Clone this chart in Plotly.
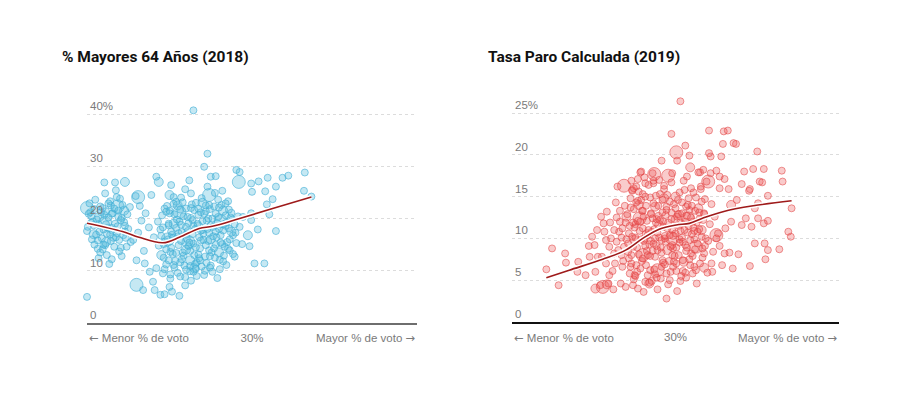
import plotly.graph_objects as go

# ---------------- LEFT PANEL: % Mayores 64 Años (2018) ----------------
left_small_x = [
    9.9, 9.9, 9.9, 10.0, 10.0, 10.1, 10.5, 10.9, 11.2, 11.5,
    11.8, 12.0, 12.3, 12.6, 12.9, 13.1, 13.4, 13.6, 13.9, 14.1,
    14.4, 14.6, 14.9, 15.2, 12.2, 13.5, 11.0, 10.6, 11.3, 12.4,
    13.0, 14.2, 12.8, 13.3, 11.7, 14.0, 10.3, 12.0, 13.8, 15.0,
    11.4, 12.7, 14.8, 15.3, 13.4, 12.1,
    15.6, 16.2, 16.6, 17.1, 17.5, 16.0, 16.9, 17.8, 18.4, 17.0,
    17.6, 18.4, 15.9, 16.4, 18.1,
    18.0, 18.2, 18.9, 19.4, 20.0, 20.3, 21.3, 20.1, 19.2, 16.8,
    21.9, 22.6, 23.3, 24.2, 25.2, 26.9, 22.0, 19.6, 20.6, 23.9,
    25.8, 21.2,
    18.7, 18.9, 19.1, 19.3, 19.5, 19.7, 19.9, 20.1, 20.3, 20.5,
    20.7, 20.9, 21.1, 21.3, 21.5, 21.7, 21.9, 22.1, 22.3, 22.5,
    22.7, 22.9, 23.1, 23.3, 23.5, 23.7, 23.9, 24.1, 24.3, 24.5,
    24.7, 24.9, 25.1, 25.3, 25.5, 25.7, 25.9, 26.1, 26.3, 26.5,
    26.7, 26.9, 27.1, 27.3, 27.5, 27.7, 27.9, 28.1, 28.3, 27.9,
    19.4, 20.2, 21.0, 22.4, 23.2, 24.6, 25.0, 26.4, 21.6, 23.8,
    20.0, 22.8, 24.4, 26.0, 27.2, 21.4, 23.6, 25.6, 19.0, 22.2,
    20.8, 24.8, 26.8, 23.0, 25.4, 18.6, 21.8, 24.0, 22.6, 20.4,
    28.1, 28.5, 25.0, 25.6, 29.9, 30.8, 31.9, 33.7, 34.4, 36.4,
    30.0, 31.6, 32.9, 36.3, 32.5, 31.8, 37.2, 29.9, 32.1, 28.9,
    29.9, 28.5, 30.7, 32.9, 28.8, 29.7, 30.3, 31.5, 24.2, 24.6,
    22.9,
    19.2, 19.6, 20.0, 20.4, 20.8, 21.2, 21.6, 22.0, 22.4, 22.8,
    23.2, 23.6, 24.0, 24.4, 24.8, 25.2, 25.6, 26.0, 26.4, 26.8,
    27.2, 27.6,
    19.8, 20.6, 21.4, 22.2, 23.0, 23.8, 24.6, 25.4, 26.2, 27.0,
    21.0, 22.6, 24.2, 25.8, 19.4, 23.4, 26.6, 20.2, 24.8, 22.0,
    20.5, 21.5, 22.5, 23.5, 24.5, 25.5, 26.5, 19.9, 22.9, 24.9,
    10.7, 11.1, 11.6, 12.1, 12.5, 12.9, 13.3, 13.7, 14.2, 14.7,
    10.4, 11.9, 13.2, 14.5, 11.4, 12.6, 13.9, 10.9, 12.3, 13.6,
    19.3, 19.9, 20.5, 21.1, 21.7, 22.3, 22.9, 23.5, 24.1, 24.7,
    25.3, 25.9, 26.5, 27.1, 27.7,
    19.6, 20.2, 20.8, 21.4, 22.0, 22.6, 23.2, 23.8, 24.4, 25.0,
    25.6, 26.2, 26.8, 27.4, 28.0,
    20.1, 21.3, 22.5, 23.7, 24.9, 26.1, 27.3, 21.9, 23.1, 24.3,
    10.2, 10.8, 11.3, 11.9, 12.4, 13.0, 13.5, 14.1, 14.6, 11.6,
    12.8, 13.8, 10.5, 12.2, 14.3,
]
left_small_y = [
    15.2, 12.4, 8.5, 5.0, 17.6, 18.4, 20.5, 21.8, 19.8, 17.5,
    16.2, 15.0, 18.9, 20.2, 22.5, 21.0, 19.0, 17.2, 15.9, 14.4,
    16.8, 18.6, 20.8, 22.2, 24.8, 25.4, 23.6, 16.0, 14.2, 13.0,
    12.2, 12.8, 16.9, 14.6, 21.2, 23.8, 22.9, 17.9, 20.3, 18.0,
    12.4, 11.3, 14.6, 15.5, 26.9, 26.9,
    15.9, 17.3, 19.6, 21.0, 18.3, 12.0, 13.8, 24.5, 28.0, 11.4,
    9.8, 10.5, 24.3, 22.4, 16.4,
    7.9, 6.3, 5.4, 5.5, 6.9, 6.0, 8.9, 8.5, 9.5, 6.3,
    7.2, 8.1, 9.0, 9.2, 9.8, 11.1, 10.2, 11.2, 10.6, 10.8,
    8.6, 5.2,
    14.8, 17.9, 20.6, 12.5, 15.6, 22.4, 18.7, 13.6, 16.9, 24.1,
    11.9, 19.8, 14.9, 21.7, 17.4, 12.9, 25.6, 16.1, 19.1, 13.8,
    22.7, 15.2, 18.0, 11.6, 20.7, 14.3, 23.9, 17.1, 12.7, 19.6,
    15.7, 21.8, 13.5, 18.4, 24.9, 16.4, 20.3, 12.1, 22.6, 17.7,
    14.6, 19.2, 23.3, 16.0, 21.1, 13.2, 18.9, 15.3, 20.4, 12.7,
    10.3, 26.4, 9.6, 27.3, 10.4, 26.1, 11.0, 25.3, 23.1, 21.2,
    21.5, 17.0, 14.9, 18.0, 18.1, 15.7, 16.4, 15.0, 16.7, 20.3,
    18.2, 17.2, 20.6, 13.0, 22.3, 19.4, 11.0, 19.5, 24.8, 13.2,
    29.3, 28.9, 28.0, 28.1, 26.7, 27.1, 27.8, 27.8, 28.2, 28.8,
    25.1, 25.2, 26.1, 25.3, 23.7, 22.7, 24.2, 21.0, 20.8, 20.3,
    19.7, 18.4, 17.9, 17.6, 15.1, 14.7, 11.4, 11.4, 29.9, 32.4,
    40.7,
    18.3, 14.1, 21.0, 16.3, 23.2, 19.4, 13.5, 21.9, 15.4, 19.7,
    23.0, 12.4, 17.8, 21.4, 13.9, 20.0, 17.5, 22.1, 15.1, 18.6,
    21.7, 19.8,
    16.0, 20.8, 18.8, 17.6, 21.6, 15.8, 18.0, 14.3, 16.8, 15.5,
    16.6, 22.0, 20.9, 19.1, 21.9, 19.0, 12.9, 14.4, 22.6, 18.4,
    11.1, 12.2, 10.9, 13.1, 11.5, 12.5, 11.8, 12.0, 9.8, 10.6,
    19.4, 16.9, 22.3, 20.7, 18.2, 15.7, 21.9, 18.5, 20.1, 16.3,
    21.2, 14.1, 16.3, 19.3, 18.9, 22.9, 13.7, 15.0, 21.4, 24.1,
    15.1, 19.0, 22.8, 17.2, 20.4, 14.7, 18.6, 21.9, 15.9, 20.0,
    16.6, 23.6, 18.9, 14.2, 16.8,
    21.3, 17.5, 13.4, 24.0, 16.9, 20.1, 14.5, 17.7, 22.5, 18.7,
    20.9, 15.4, 22.9, 20.2, 17.3,
    9.3, 11.6, 9.9, 12.0, 12.8, 10.3, 13.9, 8.8, 11.3, 10.0,
    20.9, 18.7, 15.8, 22.0, 17.1, 20.9, 16.4, 19.7, 17.5, 13.5,
    23.3, 21.5, 19.2, 14.9, 22.6,
]
left_medium_x = [11.5, 13.0, 12.3, 14.5, 10.8, 20.5, 22.0, 23.5, 25.0, 26.5,
                 21.0, 24.0, 27.5, 19.0, 23.0, 26.0, 18.7, 14.6, 29.5, 20.0,
                 22.5]
left_medium_y = [20.3, 18.0, 15.5, 21.5, 17.0, 19.0, 14.0, 18.5, 16.0, 21.5,
                 22.5, 23.0, 17.5, 13.0, 10.5, 13.5, 27.0, 27.0, 16.8, 24.5,
                 12.0]
left_large_x = [10.0, 16.2, 28.4, 16.0, 21.2, 24.8, 19.8, 13.7, 12.2, 26.2, 22.3]
left_large_y = [22.0, 24.1, 27.0, 7.3, 21.2, 24.5, 16.0, 22.3, 19.2, 19.5, 15.5]

left_trend_x = [10.0, 14.3, 16.3, 19.2, 21.2, 23.6, 25.2, 28.5, 32.5, 37.2]
left_trend_y = [19.1, 17.5, 16.4, 15.35, 16.4, 18.1, 18.5, 20.0, 21.9, 24.1]

left_tick_vals = [0, 10, 20, 30, 40]
left_tick_text = ["0", "10", "20", "30", "40%"]

# ---------------- RIGHT PANEL: Tasa Paro Calculada (2019) ----------------
right_small_x = [
    14.2, 14.9, 15.7, 16.5, 16.6, 18.1, 18.0, 19.4, 19.5, 19.0,
    20.1, 20.5, 20.2, 21.2, 21.3, 20.8, 21.8, 21.9, 22.1, 21.5,
    22.5, 22.6, 21.5, 21.9, 22.9, 24.7, 25.4, 25.7, 25.2, 23.2,
    23.2, 23.1, 23.5, 23.7, 24.6, 23.5, 24.4, 23.3, 25.0, 24.8,
    30.6, 29.5, 34.1, 35.9, 36.4, 37.1, 37.4, 35.8, 40.0, 31.2,
    31.7, 30.2, 34.1, 34.3, 35.6, 28.3, 27.2, 25.8, 26.3, 27.3,
    33.4, 33.0, 34.3, 35.0, 35.4, 36.0, 33.8,
    38.4, 39.5, 40.8, 40.3, 38.1, 39.1, 36.5, 35.4, 37.5, 41.3,
    40.1, 43.0, 43.1, 40.6, 39.0, 44.2, 39.7, 38.6, 39.3, 40.1,
    40.8, 41.3, 38.1, 36.8, 43.8, 44.1, 39.7, 40.9, 41.3, 37.7,
    36.6, 36.0, 35.4, 35.0, 35.2, 36.1, 42.7, 41.0, 35.7, 37.0,
    39.1, 34.5, 34.4, 32.1, 31.2, 29.7, 28.4, 26.8, 26.1, 28.9,
    24.1, 24.3, 24.5, 24.7, 24.9, 25.1, 25.3, 25.5, 25.7, 25.9,
    26.1, 26.3, 26.5, 26.7, 26.9, 27.1, 27.3, 27.5, 27.7, 27.9,
    28.1, 28.3, 28.5, 28.7, 28.9, 29.1, 29.3, 29.5, 29.7, 29.9,
    30.1, 30.3, 30.5, 30.7, 30.9, 31.1, 31.3, 31.5, 31.7, 31.9,
    32.1, 32.3, 32.5, 32.7, 32.9, 33.1, 33.3, 33.5, 33.7, 33.9,
    24.8, 25.6, 26.4, 27.2, 28.0, 28.8, 29.6, 30.4, 31.2, 32.0,
    25.2, 26.0, 26.8, 27.6, 28.4, 29.2, 30.0, 30.8, 31.6, 32.4,
    24.4, 25.8, 27.0, 28.6, 29.8, 31.0, 32.2, 33.4, 27.4, 28.2,
    29.4, 30.6, 31.8, 26.6, 25.4, 27.8, 30.2, 32.6, 33.6, 34.2,
    24.6, 26.2, 28.0, 29.6, 31.4, 32.8, 34.4, 34.6, 23.8, 24.2,
    22.0, 22.8, 23.4, 22.3, 23.0, 21.0, 20.4, 19.8, 23.6, 22.7,
    21.6, 20.9, 23.9, 22.4,
    24.3, 24.9, 25.5, 26.1, 26.7, 27.3, 27.9, 28.5, 29.1, 29.7,
    30.3, 30.9, 31.5, 32.1, 32.7, 33.3,
    24.6, 25.2, 25.8, 26.4, 27.0, 27.6, 28.2, 28.8, 29.4, 30.0,
    30.6, 31.2, 31.8, 32.4, 33.0, 33.6,
    25.0, 25.9, 26.9, 27.8, 28.7, 29.5, 30.4, 31.3, 32.2, 26.3,
    27.5, 28.9, 30.1, 31.6, 29.0, 27.1,
    24.0, 25.4, 26.6, 27.7, 28.3, 29.8, 30.9, 32.3, 33.5, 28.6,
    26.0, 24.7, 31.9, 30.7, 29.3, 27.3,
    25.1, 26.2, 27.4, 28.5, 29.6, 30.5, 31.4, 32.9, 23.4, 22.8,
    23.9, 22.5, 24.5, 34.0, 33.2, 34.8,
    24.2, 24.8, 25.4, 26.0, 26.6, 27.2, 27.8, 28.4, 29.0, 29.6,
    30.2, 30.8, 31.4, 32.0, 32.6, 33.2,
    24.5, 25.1, 25.7, 26.3, 26.9, 27.5, 28.1, 28.7, 29.3, 29.9,
    30.5, 31.1, 31.7, 32.3, 32.9, 33.5,
    25.3, 26.5, 27.7, 28.9, 30.1, 31.3, 32.5, 26.0, 28.3, 30.8,
    27.0, 29.5, 31.9, 24.9, 33.1,
]
right_small_y = [
    6.3, 8.8, 4.4, 8.2, 7.1, 7.2, 6.0, 9.1, 7.8, 5.6,
    9.2, 7.8, 6.0, 11.8, 10.8, 4.4, 4.6, 9.0, 10.0, 9.8,
    8.2, 7.0, 7.0, 5.6, 16.2, 15.8, 17.1, 17.9, 16.2, 13.3,
    12.0, 10.8, 11.2, 9.0, 8.0, 6.6, 5.8, 4.6, 5.6, 4.4,
    26.4, 22.5, 22.9, 22.8, 22.9, 21.4, 21.3, 21.3, 20.4, 21.1,
    19.9, 19.3, 20.2, 19.8, 19.8, 19.3, 17.8, 18.0, 16.6, 16.6,
    18.2, 17.9, 17.8, 18.1, 17.4, 17.1, 16.8,
    18.0, 18.3, 18.3, 16.8, 16.5, 15.9, 15.9, 16.0, 14.6, 15.1,
    14.2, 18.1, 16.8, 16.7, 15.7, 13.6, 13.6, 12.4, 11.4, 12.4,
    11.8, 12.1, 11.6, 12.0, 10.8, 10.2, 9.4, 9.4, 8.6, 8.1,
    8.3, 8.2, 9.1, 10.0, 10.6, 11.2, 8.7, 7.5, 6.8, 6.4,
    6.7, 6.0, 7.0, 5.8, 5.9, 6.6, 7.4, 4.7, 3.6, 2.8,
    12.9, 7.6, 14.8, 10.2, 5.1, 11.7, 8.9, 15.6, 6.4, 13.3,
    9.7, 4.8, 12.1, 16.4, 7.9, 10.8, 14.2, 5.7, 9.1, 12.7,
    15.3, 8.3, 11.4, 6.9, 13.8, 4.5, 10.4, 16.7, 8.8, 12.3,
    6.1, 14.6, 9.9, 11.8, 7.4, 15.8, 5.3, 10.7, 13.4, 8.2,
    12.0, 6.6, 14.9, 9.4, 11.1, 16.2, 7.7, 13.0, 10.0, 5.9,
    9.0, 10.9, 13.9, 8.5, 10.1, 9.6, 11.0, 8.0, 9.2, 10.5,
    6.8, 11.2, 9.3, 11.9, 13.1, 7.3, 10.6, 13.0, 11.5, 8.7,
    11.5, 14.6, 13.0, 15.9, 14.1, 16.9, 15.5, 12.2, 6.3, 5.2,
    6.0, 4.9, 6.8, 5.6, 4.0, 3.9, 3.7, 4.6, 9.1, 11.7,
    16.9, 17.3, 17.0, 17.8, 17.4, 17.9, 14.1, 8.4, 13.9, 9.4,
    11.9, 12.5, 10.1, 6.1, 8.6, 7.8, 11.0, 10.2, 7.3, 14.3,
    13.2, 12.6, 4.2, 3.9,
    10.6, 13.5, 8.1, 12.6, 11.0, 9.4, 13.9, 7.1, 11.9, 10.3,
    12.9, 9.6, 14.0, 7.9, 10.8, 8.8,
    7.0, 14.3, 9.9, 6.8, 12.9, 15.1, 8.9, 12.8, 9.0, 13.6,
    10.9, 12.0, 9.8, 13.3, 7.0, 14.7,
    11.3, 7.3, 14.9, 10.7, 10.0, 13.1, 11.5, 8.5, 11.3, 9.1,
    7.8, 5.8, 8.9, 14.8, 15.2, 4.9,
    9.9, 12.1, 8.0, 12.3, 9.8, 7.2, 6.1, 9.9, 12.9, 16.3,
    15.3, 15.7, 16.0, 5.5, 5.0, 16.9,
    5.5, 10.0, 11.1, 12.0, 8.0, 9.5, 12.7, 12.3, 8.0, 9.6,
    11.9, 11.0, 6.6, 9.7, 10.2, 12.6,
    8.4, 11.9, 14.5, 7.6, 10.4, 12.4, 8.6, 14.6, 11.2, 9.2,
    12.6, 10.1, 8.9, 13.9, 11.9, 14.4,
    13.7, 10.1, 12.0, 15.0, 6.2, 10.0, 12.2, 10.3, 14.4, 7.9,
    15.5, 11.0, 7.5, 10.9, 13.1, 8.2,
    6.0, 8.5, 5.3, 13.4, 7.0, 13.8, 6.2, 13.3, 6.6, 14.3,
    9.7, 12.3, 12.5, 16.0, 15.9,
]
right_medium_x = [26.8, 28.6, 30.0, 27.5, 29.0, 31.0, 32.8, 25.0, 26.5, 24.0,
                  33.2, 30.5, 28.0, 21.6, 20.2, 36.8, 31.8, 25.5, 33.5]
right_medium_y = [4.6, 14.8, 15.0, 13.8, 8.6, 7.2, 13.6, 9.8, 10.5, 12.6,
                  11.0, 12.8, 11.6, 4.5, 4.0, 14.0, 18.5, 14.0, 6.5]
right_large_x = [30.1, 27.4, 23.7, 29.1, 34.0, 31.5, 35.0, 21.1, 27.8, 25.6, 29.6, 26.0, 32.5]
right_large_y = [20.3, 17.7, 16.3, 17.5, 16.8, 12.4, 10.4, 4.2, 6.2, 12.4, 10.0, 8.0, 9.0]

right_trend_x = [14.2, 17.0, 21.1, 23.9, 26.0, 28.0, 30.1, 31.7, 33.3, 35.8, 39.5, 44.2]
right_trend_y = [5.3, 6.2, 7.5, 8.6, 10.0, 11.1, 11.6, 11.8, 12.4, 13.2, 13.9, 14.5]

right_tick_vals = [0, 5, 10, 15, 20, 25]
right_tick_text = ["0", "5", "10", "15", "20", "25%"]

titles = ["% Mayores 64 Años (2018)", "Tasa Paro Calculada (2019)"]
x_labels = ["Menor % de voto", "Mayor % de voto"]
arrows = ["←", "→"]

# ---------------- FIGURE ----------------
W, H = 900, 395
fig = go.Figure()

BLUE_FILL = "rgba(80,186,220,0.33)"
BLUE_LINE = "rgba(70,176,214,0.62)"
RED_FILL = "rgba(236,84,84,0.30)"
RED_LINE = "rgba(226,70,70,0.56)"
TREND = "#9e1a1a"


def add_points(xs, ys, size, fill, line, xa, ya):
    fig.add_trace(go.Scatter(
        x=xs, y=ys, mode="markers", xaxis=xa, yaxis=ya,
        marker=dict(size=size, color=fill, line=dict(color=line, width=1)),
        cliponaxis=False, hoverinfo="skip", showlegend=False))


def add_trend(xs, ys, xa, ya):
    fig.add_trace(go.Scatter(x=xs, y=ys, mode="lines", xaxis=xa, yaxis=ya,
                             line=dict(color="white", width=4.5, shape="spline"),
                             hoverinfo="skip", showlegend=False))
    fig.add_trace(go.Scatter(x=xs, y=ys, mode="lines", xaxis=xa, yaxis=ya,
                             line=dict(color=TREND, width=1.6, shape="spline"),
                             hoverinfo="skip", showlegend=False))


add_points(left_large_x, left_large_y, 13, BLUE_FILL, BLUE_LINE, "x", "y")
add_points(left_medium_x, left_medium_y, 9, BLUE_FILL, BLUE_LINE, "x", "y")
add_points(left_small_x, left_small_y, 7, BLUE_FILL, BLUE_LINE, "x", "y")
add_trend(left_trend_x, left_trend_y, "x", "y")

add_points(right_large_x, right_large_y, 13, RED_FILL, RED_LINE, "x2", "y2")
add_points(right_medium_x, right_medium_y, 9, RED_FILL, RED_LINE, "x2", "y2")
add_points(right_small_x, right_small_y, 7, RED_FILL, RED_LINE, "x2", "y2")
add_trend(right_trend_x, right_trend_y, "x2", "y2")

TICK_FONT = dict(family="Liberation Sans, Arial, sans-serif", size=11.5, color="#7a7a7a")
grid = dict(showgrid=True, gridcolor="#dcdcdc", griddash="dot", gridwidth=1,
            zeroline=False, showline=False, ticks="", tickfont=TICK_FONT,
            ticklabelposition="inside top", fixedrange=True)
xcommon = dict(showgrid=False, zeroline=False, showline=True, ticks="",
               tickvals=[30], ticktext=["30%"], tickfont=TICK_FONT,
               ticklabelstandoff=3, range=[10, 50], fixedrange=True)

TOP = 92
fig.update_layout(
    width=W, height=H,
    margin=dict(l=0, r=0, t=0, b=0),
    paper_bgcolor="white", plot_bgcolor="white",
    xaxis=dict(domain=[87 / W, 417 / W], anchor="y", linecolor="#6e6e6e", linewidth=2, **xcommon),
    yaxis=dict(domain=[(H - 323) / H, (H - TOP) / H], anchor="x",
               range=[0, (323 - TOP) / 5.225], tickvals=left_tick_vals, ticktext=left_tick_text, **grid),
    xaxis2=dict(domain=[512 / W, 839 / W], anchor="y2", linecolor="#111111", linewidth=1.5, **xcommon),
    yaxis2=dict(domain=[(H - 322) / H, (H - TOP) / H], anchor="x2",
                range=[0, (322 - TOP) / 8.36], tickvals=right_tick_vals, ticktext=right_tick_text, **grid),
)

TITLE_FONT = dict(family="Roboto, Arial, sans-serif", size=15.5, color="#111111")
fig.add_annotation(text="<b>" + titles[0] + "</b>", xref="paper", yref="paper",
                   x=60 / W, y=(H - 57) / H, xanchor="left", yanchor="middle",
                   showarrow=False, font=TITLE_FONT)
fig.add_annotation(text="<b>" + titles[1] + "</b>", xref="paper", yref="paper",
                   x=486 / W, y=(H - 57) / H, xanchor="left", yanchor="middle",
                   showarrow=False, font=TITLE_FONT)

ARROW_SPAN = "<span style='font-family:DejaVu Sans'>{}</span>"
left_label = ARROW_SPAN.format(arrows[0]) + " " + x_labels[0]
right_label = x_labels[1] + " " + ARROW_SPAN.format(arrows[1])
for xd in ["x domain", "x2 domain"]:
    fig.add_annotation(text=left_label, xref=xd, yref="paper", x=0, y=(H - 338) / H,
                       xanchor="left", yanchor="middle", showarrow=False, font=TICK_FONT)
    fig.add_annotation(text=right_label, xref=xd, yref="paper", x=1, y=(H - 338) / H,
                       xanchor="right", yanchor="middle", showarrow=False, font=TICK_FONT)

fig.write_html("out.html", config={"displayModeBar": False},
               post_script="document.body.style.margin='0';")
